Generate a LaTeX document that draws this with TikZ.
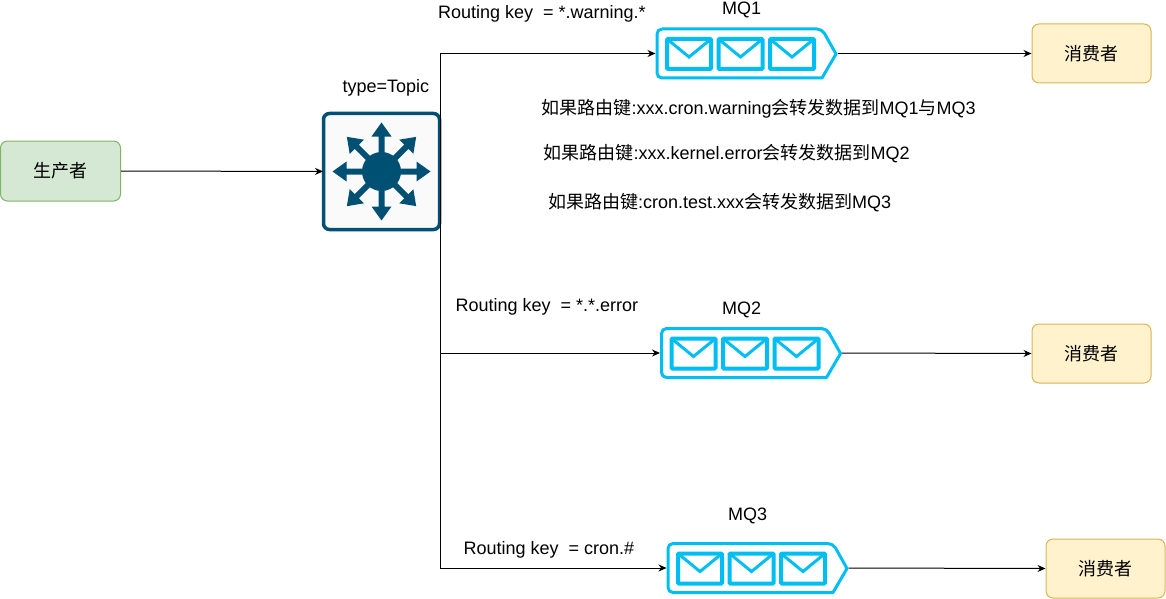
\documentclass[tikz,border=0pt]{standalone}
\usepackage{fontspec}
\usetikzlibrary{calc,arrows.meta}
\setmainfont{Liberation Sans}
\newfontfamily\cjk{Noto Sans CJK SC}
\definecolor{mqblue}{HTML}{00BEF2}
\definecolor{hubblue}{HTML}{005073}
\definecolor{prodfill}{HTML}{D5E8D4}
\definecolor{prodline}{HTML}{82B366}
\definecolor{consfill}{HTML}{FFF2CC}
\definecolor{consline}{HTML}{D6B656}
\begin{document}
\begin{tikzpicture}[x=1pt,y=-1pt,font=\fontsize{18}{21}\selectfont]
    \tikzstyle{every path}=[line width=1pt]
    \tikzstyle{link}=[-{Stealth[length=8pt,width=7pt]}]
    \tikzstyle{producer}=[rectangle,rounded corners=7pt,draw=prodline,fill=prodfill,minimum width=120pt,minimum height=60pt,inner sep=0pt]
    \tikzstyle{consumer}=[rectangle,rounded corners=7pt,draw=consline,fill=consfill,minimum width=119pt,minimum height=59pt,inner sep=0pt]
    \tikzstyle{queue}=[rectangle,minimum width=181pt,minimum height=50pt,inner sep=0pt]
    \tikzstyle{hub}=[rectangle,rounded corners=6pt,draw=hubblue,line width=3.5pt,fill=black!2,minimum size=116pt,inner sep=0pt,outer sep=0.5pt]
    \tikzstyle{lbl}=[anchor=base west,inner sep=0pt]
    \tikzstyle{lblmid}=[anchor=base,inner sep=0pt]

    \useasboundingbox (0,0) rectangle (1166,599);

    \node[producer] (producer) at (60.5,171) {\cjk 生产者};
    \node[hub] (hub) at (381.5,171.5) {};
    \fill[hubblue] (hub.center) circle (19.5pt);
    \foreach \ang in {0,45,...,315}
        \fill[hubblue,rotate around={\ang:(hub.center)}] ($(hub.center)+(0,-3)$) -- ++(35,0) -- ++(0,-7) -- ++(14,10) -- ++(-14,10) -- ++(0,-7) -- ++(-35,0) -- cycle;

    % queues and their consumers
    \foreach \num/\x/\y/\cx/\cy in {1/656/28/1091.5/53.5, 2/660.5/327.5/1091.5/353.5, 3/667/542.5/1105.5/568.5} {
        \node[queue] (MQ-\num) at (\x+90.5,\y+25.5) {};
        \draw[mqblue,line width=3pt,line join=round] [rounded corners=5pt] (\x+1,\y+26) -- (\x+1,\y+1) -- (\x+166,\y+1) [sharp corners] -- (\x+180,\y+26) -- (\x+166,\y+50) [rounded corners=5pt] -- (\x+1,\y+50) -- cycle;
        \foreach \ex in {11,62.5,114} {
            \draw[mqblue,line width=4pt,rounded corners=1pt] (\x+\ex,\y+11) rectangle ++(44,30);
            \draw[mqblue,line width=3pt] (\x+\ex,\y+11) -- ++(22,18) -- ++(22,-18);
        }
        \node[consumer] (C-\num) at (\cx,\cy) {\cjk 消费者};
        \draw[link] (MQ-\num.east) -- (C-\num.west);
    }

    \draw[link] (producer) -- (hub);
    \foreach \num in {1,2,3}
        \draw[link] (hub.east) |- (MQ-\num.west);

    \node[lblmid] (mqname-1) at (741.5,14.5) {MQ1};
    \node[lblmid] (mqname-2) at (741.5,314.5) {MQ2};
    \node[lblmid] (mqname-3) at (747.5,520.5) {MQ3};
    \node[lbl] (type) at (342,92.5) {type=Topic};
    \node[lbl] (key-1) at (437.5,19) {Routing key\ \ = *.warning.*};
    \node[lbl] (key-2) at (455,311.5) {Routing key\ \ = *.*.error};
    \node[lbl] (key-3) at (463,554) {Routing key\ \ = cron.\#};
    \node[lbl] (rule-1) at (541,114) {{\cjk 如果路由键}:xxx.cron.warning{\cjk 会转发数据到}MQ1{\cjk 与}MQ3};
    \node[lbl] (rule-2) at (543,159) {{\cjk 如果路由键}:xxx.kernel.error{\cjk 会转发数据到}MQ2};
    \node[lbl] (rule-3) at (547.5,208) {{\cjk 如果路由键}:cron.test.xxx{\cjk 会转发数据到}MQ3};
\end{tikzpicture}
\end{document}
